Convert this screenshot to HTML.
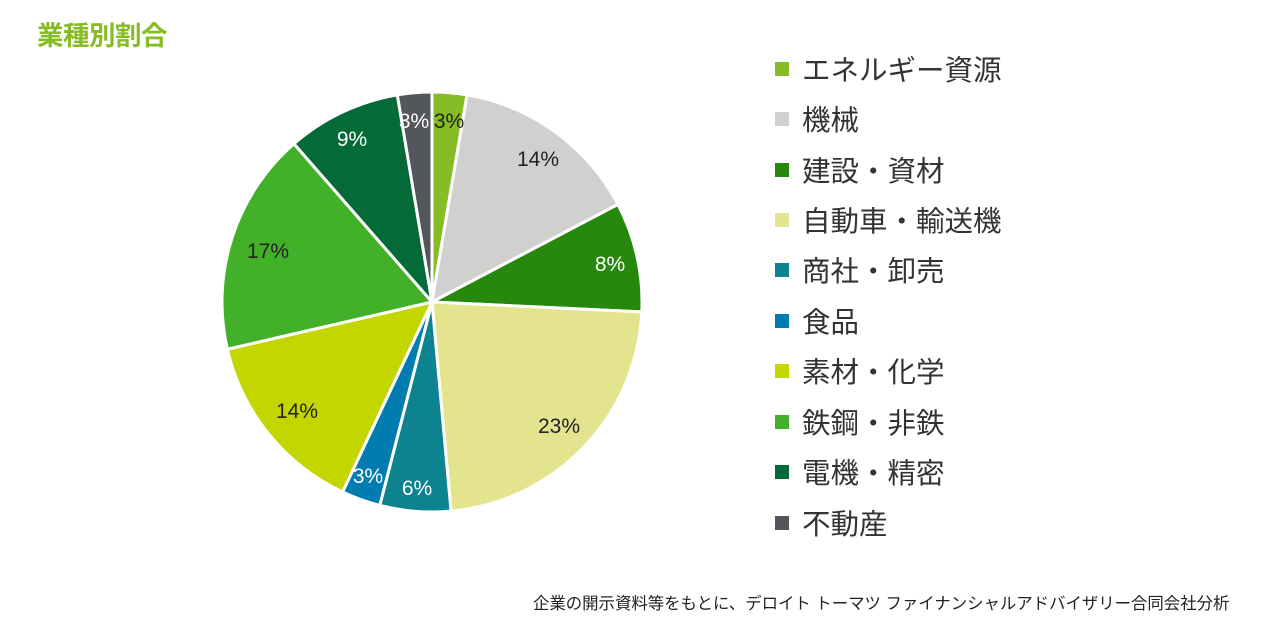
<!DOCTYPE html>
<html><head><meta charset="utf-8"><style>
html,body{margin:0;padding:0;background:#fff;width:1280px;height:640px;overflow:hidden;font-family:"Liberation Sans","Noto Sans CJK JP",sans-serif}
.t{position:absolute;left:37px;top:14px;font-size:26.5px;font-weight:bold;color:#86bc25;letter-spacing:-0.5px}
.lg{position:absolute;left:775px;font-size:28.5px;color:#333;line-height:34px;white-space:nowrap}
.lg i{display:inline-block;width:14px;height:14px;margin-right:13px;vertical-align:middle;position:relative;top:-3px}
.f{position:absolute;left:533px;top:590px;font-size:16.4px;color:#222;white-space:nowrap}
</style></head><body>
<div class="t">業種別割合</div>
<svg id="s" width="1280" height="640" style="position:absolute;left:0;top:0"></svg>
<div class="lg" style="top:54px"><i style="background:#86bc25"></i>エネルギー資源</div>
<div class="lg" style="top:104px"><i style="background:#d0d0ce"></i>機械</div>
<div class="lg" style="top:155px"><i style="background:#26890d"></i>建設・資材</div>
<div class="lg" style="top:205px"><i style="background:#e3e48d"></i>自動車・輸送機</div>
<div class="lg" style="top:255px"><i style="background:#0d8390"></i>商社・卸売</div>
<div class="lg" style="top:306px"><i style="background:#007cb0"></i>食品</div>
<div class="lg" style="top:356px"><i style="background:#c4d600"></i>素材・化学</div>
<div class="lg" style="top:407px"><i style="background:#43b02a"></i>鉄鋼・非鉄</div>
<div class="lg" style="top:457px"><i style="background:#046a38"></i>電機・精密</div>
<div class="lg" style="top:508px"><i style="background:#53565a"></i>不動産</div>
<div class="f">企業の開示資料等をもとに、デロイト トーマツ ファイナンシャルアドバイザリー合同会社分析</div>
<script>
var cx=432,cy=302,r=210;
var a=[0,9.6,62.3,92.7,174.8,194.4,205.2,257,318.9,350.5,360];
var c=["#86bc25","#d0d0ce","#26890d","#e3e48d","#0d8390","#007cb0","#c4d600","#43b02a","#046a38","#53565a"];
var lab=["3%","14%","8%","23%","6%","3%","14%","17%","9%","3%"];
var lp=[[449,121],[538,159],[610,264],[559,426],[417,488],[368,476],[297,411],[268,251],[352,139],[414,121]];
var wc=[0,0,1,0,1,1,0,0,1,1];
var s="";
function p(d){var t=(d-90)*Math.PI/180;return [cx+r*Math.cos(t),cy+r*Math.sin(t)];}
for(var i=0;i<10;i++){var p1=p(a[i]),p2=p(a[i+1]);var lg=(a[i+1]-a[i])>180?1:0;
s+='<path d="M'+cx+','+cy+'L'+p1[0]+','+p1[1]+'A'+r+','+r+' 0 '+lg+' 1 '+p2[0]+','+p2[1]+'Z" fill="'+c[i]+'" stroke="#fff" stroke-width="3" stroke-linejoin="round"/>';}
for(var i=0;i<10;i++){s+='<text x="'+lp[i][0]+'" y="'+(lp[i][1]+7)+'" text-anchor="middle" font-size="21" font-family="Liberation Sans,sans-serif" fill="'+(wc[i]?'#fff':'#222')+'">'+lab[i]+'</text>';}
document.getElementById('s').innerHTML=s;
</script>
</body></html>
